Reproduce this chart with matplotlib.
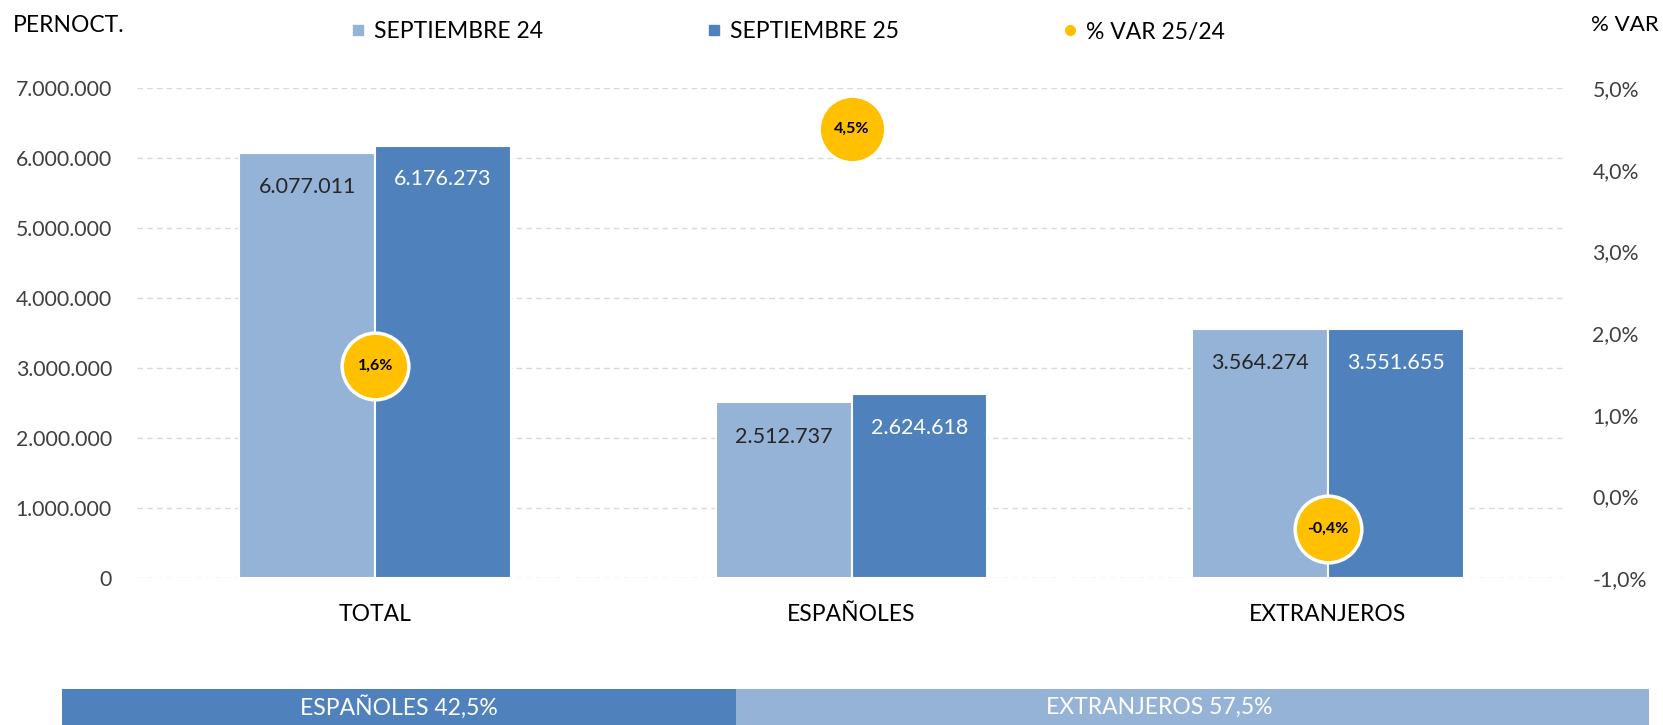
import matplotlib
matplotlib.use("Agg")
import matplotlib.pyplot as plt
from matplotlib.ticker import FuncFormatter, MultipleLocator
from matplotlib.lines import Line2D
import numpy as np

plt.rcParams['font.family'] = ['Lato', 'DejaVu Sans']

categories = ["TOTAL", "ESPAÑOLES", "EXTRANJEROS"]
sep24 = [6077011, 2512737, 3564274]
sep25 = [6176273, 2624618, 3551655]
var_pct = [1.6, 4.5, -0.4]
share_labels = ["ESPAÑOLES", "EXTRANJEROS"]
share_values = [42.5, 57.5]
series_labels = ["SEPTIEMBRE 24", "SEPTIEMBRE 25", "% VAR 25/24"]

C_LIGHT = "#95B3D7"
C_DARK = "#4F81BD"
C_YEL = "#FFC000"
C_TXT = "#262626"
C_TICK = "#404040"

def fmt_thousands(v):
    return f"{int(round(v)):,}".replace(",", ".")

fig = plt.figure(figsize=(16.63, 7.25), dpi=100)
ax = fig.add_axes([137/1663, 1-578/725, (1566-137)/1663, (578-88)/725])

x = np.arange(len(categories))
w = 0.285
ax.bar(x - w/2, sep24, w, color=C_LIGHT, edgecolor="white", linewidth=1.5, zorder=2)
ax.bar(x + w/2, sep25, w, color=C_DARK, edgecolor="white", linewidth=1.5, zorder=2)

for xi, v in zip(x, sep24):
    ax.annotate(fmt_thousands(v), (xi - w/2, v), xytext=(0, -25), textcoords="offset points",
                ha="center", va="center", fontsize=15.5, color=C_TXT, zorder=3)
for xi, v in zip(x, sep25):
    ax.annotate(fmt_thousands(v), (xi + w/2, v), xytext=(0, -24), textcoords="offset points",
                ha="center", va="center", fontsize=15.5, color="white", zorder=3)

ax.set_xlim(-0.5, 2.5)
ax.set_ylim(0, 7000000)
ax.yaxis.set_major_locator(MultipleLocator(1000000))
ax.yaxis.set_major_formatter(FuncFormatter(lambda v, p: fmt_thousands(v)))
ax.grid(axis="y", color="#D9D9D9", linestyle=(0, (4, 3)), linewidth=1)
ax.set_axisbelow(True)
ax.set_xticks(x)
ax.set_xticklabels(categories)
ax.tick_params(axis="x", length=0, pad=19, labelsize=16.5, labelcolor="black")
ax.tick_params(axis="y", length=0, pad=18, labelsize=15.3, labelcolor=C_TICK)
for s in ax.spines.values():
    s.set_visible(False)

ax2 = ax.twinx()
ax2.set_ylim(-1, 5)
ax2.yaxis.set_major_locator(MultipleLocator(1))
ax2.yaxis.set_major_formatter(FuncFormatter(lambda v, p: f"{v:.1f}%".replace(".", ",")))
ax2.tick_params(axis="y", length=0, pad=19, labelsize=15.3, labelcolor=C_TICK)
for s in ax2.spines.values():
    s.set_visible(False)
ax2.plot(x, var_pct, linestyle="none", marker="o", markersize=48, markerfacecolor=C_YEL,
         markeredgecolor="white", markeredgewidth=2.5, zorder=4)
for xi, v in zip(x, var_pct):
    ax2.text(xi, v, f"{v:.1f}%".replace(".", ","), ha="center", va="center",
             fontsize=11.5, fontweight="bold", color="black", zorder=5)

fig.text(13/1663, 1-25/725, "PERNOCT.", fontsize=16.5, color="black", ha="left", va="center")
fig.text(1659/1663, 1-25/725, "% VAR", fontsize=16, color="black", ha="right", va="center")

handles = [
    Line2D([], [], linestyle="none", marker="s", markersize=7, color=C_LIGHT),
    Line2D([], [], linestyle="none", marker="s", markersize=7, color=C_DARK),
    Line2D([], [], linestyle="none", marker="o", markersize=7, color=C_YEL),
]
fig.legend(handles, series_labels, ncol=3, loc="center", bbox_to_anchor=(788/1663, 1-32/725),
           frameon=False, fontsize=16.5, handlelength=0.6, handletextpad=0.4, columnspacing=7.15)

axb = fig.add_axes([61.5/1663, 0, (1649-61.5)/1663, 36/725])
left = 0
label_shift = [0, -24]
for lab, val, col, sh in zip(share_labels, share_values, [C_DARK, C_LIGHT], label_shift):
    axb.barh(0, val, left=left, height=1, color=col, edgecolor="none")
    axb.annotate(f"{lab} {val:.1f}%".replace(".", ","), (left + val/2, 0), xytext=(sh, 0),
                 textcoords="offset points", ha="center", va="center",
                 fontsize=16.5, color="white")
    left += val
axb.set_xlim(0, sum(share_values))
axb.set_ylim(-0.5, 0.5)
axb.axis("off")

fig.savefig("out.png", dpi=100)
